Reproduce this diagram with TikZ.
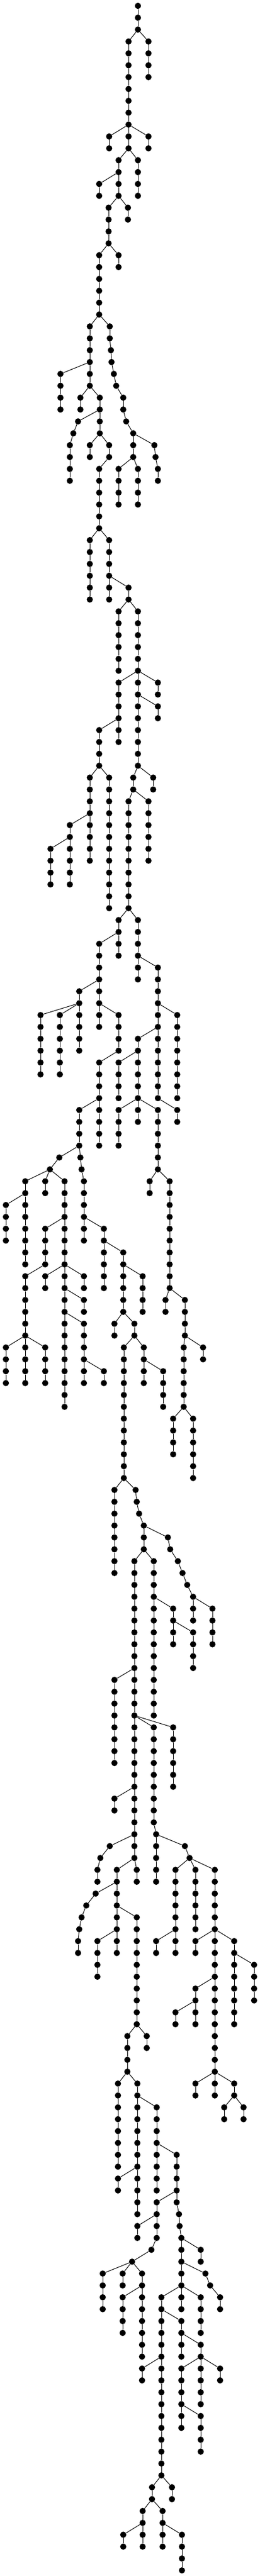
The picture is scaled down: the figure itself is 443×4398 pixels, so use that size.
\documentclass[tikz,border=0pt]{standalone}
\usepackage{tikz}
\tikzset{
  dot/.style={circle, fill=black, inner sep=0pt, minimum size=10.6pt},
  link/.style={line width=1pt}
}
\begin{document}
\begin{tikzpicture}[x=1pt, y=-1pt]
  \useasboundingbox (0,0) rectangle (443,4398);
  \foreach \x/\a/\b/\p in {
    235/0/2/0, 219/3/10/235, 253/3/6/235, 186/11/12/219, 219/11/12/219, 253/11/12/219,
    202/13/16/219, 235/13/16/219, 169/15/16/202, 185/17/20/202, 218/17/18/202,
    169/21/26/185, 202/21/22/185, 153/27/32/169, 187/27/28/169, 189/29/29/187,
    190/30/30/189, 103/31/34/153, 194/31/31/190, 198/32/32/194, 137/33/34/153,
    170/33/36/153, 210/33/34/198, 133/35/35/170, 215/35/35/210, 125/36/36/133,
    227/36/38/215, 119/37/40/125, 153/37/38/170, 186/37/38/170, 263/37/37/227,
    265/38/38/263, 169/39/44/186, 202/39/42/227, 235/39/42/227, 269/39/40/265,
    153/45/50/169, 186/45/50/169, 219/49/50/186, 202/51/56/219, 235/51/56/219,
    202/57/62/235, 235/57/64/235, 269/57/58/235, 269/59/60/235, 169/61/64/202,
    153/65/72/169, 186/65/76/169, 227/65/66/235, 261/65/66/235, 219/67/76/227,
    253/67/72/227, 119/69/74/153, 86/71/74/119, 202/77/80/219, 235/77/82/219,
    169/79/86/202, 269/81/92/235, 135/83/88/169, 69/85/90/135, 102/85/90/135,
    202/85/88/169, 302/85/92/269, 235/87/92/269, 169/89/96/202, 202/89/92/235,
    135/93/96/169, 202/93/96/235, 235/93/94/235, 269/93/98/235, 302/93/94/269,
    101/97/97/135, 137/97/97/135, 85/98/98/101, 139/98/98/137, 43/99/106/85,
    77/99/100/85, 110/99/106/85, 143/99/104/139, 255/99/100/269, 289/99/108/269,
    10/101/104/43, 77/103/106/110, 177/103/108/143, 210/105/110/177, 43/107/112/77,
    77/107/108/110, 110/107/118/110, 143/107/108/110, 243/107/110/210, 143/109/110/110,
    282/109/110/289, 315/109/112/289, 143/111/116/110, 195/111/112/210, 229/111/112/210,
    10/113/116/43, 43/113/116/43, 77/113/116/43, 211/113/124/229, 245/113/116/229,
    313/113/118/315, 346/113/114/315, 177/115/116/143, 278/115/118/245, 295/119/122/313,
    329/119/124/313, 195/125/132/211, 231/125/125/211, 233/126/126/231, 237/127/127/233,
    245/128/130/237, 286/129/129/245, 290/130/130/286, 229/131/144/245, 262/131/144/245,
    303/131/131/290, 311/132/132/303, 319/133/133/311, 329/134/136/319, 295/135/138/262,
    362/135/138/329, 329/137/140/295, 195/141/148/229, 229/145/156/229, 262/145/153/229,
    295/145/150/229, 195/151/152/229, 266/154/158/262, 187/155/155/229, 315/155/155/266,
    171/156/156/187, 323/156/156/315, 166/157/158/171, 199/157/164/229, 233/157/158/229,
    299/157/164/323, 333/157/162/323, 366/157/176/323, 163/159/159/199, 147/160/160/163,
    139/161/161/147, 233/161/170/199, 135/162/162/139, 133/163/164/135, 166/163/166/199,
    266/163/164/299, 333/163/164/366, 399/163/170/366, 433/165/168/399, 333/167/170/366,
    299/169/170/333, 217/171/174/233, 250/171/172/233, 201/175/182/217, 234/175/186/217,
    333/175/176/366, 399/175/176/366, 267/177/184/234, 382/177/178/399, 415/177/178/399,
    301/181/185/267, 201/183/184/234, 267/185/188/301, 305/186/186/301, 234/187/188/267,
    306/187/187/305, 309/188/194/306, 258/189/189/267, 342/189/190/309, 225/190/190/258,
    175/191/194/225, 209/191/192/225, 242/191/198/225, 350/191/191/309, 358/192/192/350,
    209/193/196/242, 275/193/208/309, 342/193/196/309, 375/193/194/358, 309/195/198/275,
    342/197/202/309, 242/199/200/275, 309/199/204/342, 375/199/200/342, 342/203/206/309,
    259/209/210/275, 293/209/210/275, 243/211/214/259, 277/211/214/259, 210/213/214/243,
    310/213/216/277}{
    \foreach \r in {\a,...,\b}{
      \pgfmathtruncatemacro{\q}{\r-1}
      \node[dot] (v\r-\x) at (\x, {10+20.27*\r}) {};
      \ifnum\r=\a\relax
        \ifnum\p>0\relax \draw[link] (v\q-\p) -- (v\r-\x);\fi
      \else
        \draw[link] (v\q-\x) -- (v\r-\x);
      \fi
    }
  }
\end{tikzpicture}
\end{document}
